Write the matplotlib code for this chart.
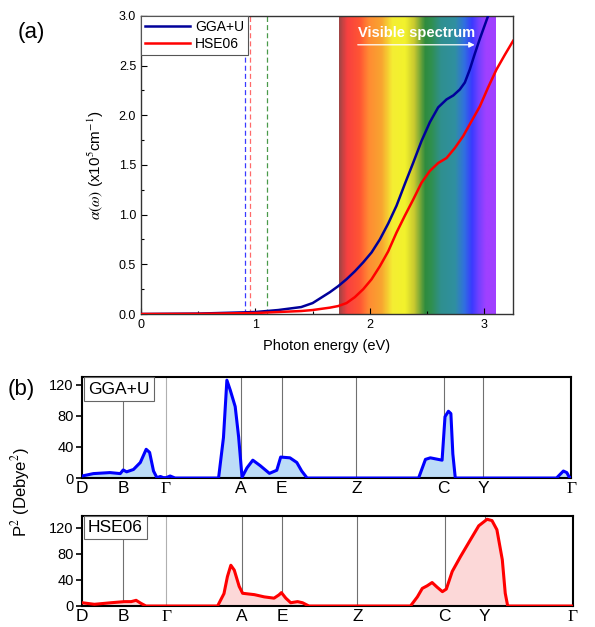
import numpy as np
import matplotlib
matplotlib.use("Agg")
import matplotlib.pyplot as plt
from matplotlib.colors import LinearSegmentedColormap

plt.rcParams["font.family"] = ["Liberation Sans", "DejaVu Sans"]
plt.rcParams["mathtext.fontset"] = "stix"

# ---- panel (a): absorption coefficient ----
energy_gga = [0, 0.5, 1.0, 1.2, 1.4, 1.5, 1.651, 1.723, 1.796, 1.869, 1.942, 2.015,
              2.087, 2.16, 2.233, 2.306, 2.378, 2.451, 2.524, 2.597, 2.670, 2.729,
              2.786, 2.830, 2.873, 2.917, 2.961, 3.033, 3.07]
alpha_gga = [0, 0.004, 0.02, 0.04, 0.07, 0.11, 0.22, 0.28, 0.35, 0.43, 0.52, 0.62,
             0.75, 0.91, 1.09, 1.31, 1.52, 1.74, 1.93, 2.08, 2.16, 2.20,
             2.26, 2.33, 2.46, 2.62, 2.77, 3.0, 3.15]
energy_hse = [0, 0.5, 1.0, 1.4, 1.5, 1.651, 1.723, 1.796, 1.869, 1.942, 2.015, 2.087,
              2.16, 2.233, 2.306, 2.378, 2.451, 2.524, 2.597, 2.670, 2.742, 2.815,
              2.888, 2.961, 3.033, 3.106, 3.18, 3.252]
alpha_hse = [0, 0.002, 0.01, 0.03, 0.04, 0.064, 0.08, 0.11, 0.17, 0.25, 0.35, 0.48,
             0.63, 0.82, 0.99, 1.15, 1.32, 1.44, 1.52, 1.57, 1.67, 1.79,
             1.94, 2.09, 2.28, 2.46, 2.61, 2.75]
gap_lines = [0.913, 0.95, 1.10]
gap_colors = ["#3a3aff", "#ff6a6a", "#4a9a4a"]
visible = (1.73, 3.10)

# ---- panel (b): transition dipole moment along k-path ----
kpoint_labels = ["D", "B", "Γ", "A", "E", "Z", "C", "Y", "Γ"]
kpoint_pos = [0, 0.084, 0.171, 0.325, 0.408, 0.561, 0.739, 0.820, 1.0]

k_gga = [0, 0.023, 0.057, 0.078, 0.084, 0.091, 0.105, 0.119, 0.131, 0.138, 0.146,
         0.153, 0.160, 0.166, 0.172, 0.180, 0.190, 0.279, 0.289, 0.296, 0.303,
         0.313, 0.320, 0.327, 0.337, 0.349, 0.364, 0.383, 0.398, 0.406, 0.425,
         0.439, 0.449, 0.460, 0.688, 0.702, 0.712, 0.736, 0.742, 0.749, 0.754,
         0.758, 0.763, 0.970, 0.984, 0.991, 0.997, 1.0]
p2_gga = [2.6, 5.7, 7, 5.7, 10.4, 8, 11, 20, 37, 33, 9,
          0.4, 2, 0.5, 0.5, 2.6, 0, 0, 52, 126, 113,
          92, 53, 1, 13, 23, 16, 6, 10, 27, 26,
          20, 9, 0, 0, 24, 26, 23, 79, 86, 83,
          31, 0, 0, 9, 7, 0, 0]

k_hse = [0, 0.025, 0.059, 0.086, 0.100, 0.110, 0.120, 0.130, 0.276, 0.289, 0.296,
         0.303, 0.310, 0.320, 0.327, 0.351, 0.371, 0.391, 0.401, 0.406, 0.415,
         0.425, 0.439, 0.449, 0.462, 0.669, 0.683, 0.693, 0.703, 0.713, 0.723,
         0.734, 0.742, 0.754, 0.771, 0.791, 0.808, 0.825, 0.835, 0.845, 0.856,
         0.862, 0.867, 1.0]
p2_hse = [5, 2.6, 5, 6.7, 6.7, 8.7, 4, 0, 0, 19, 45,
          62.5, 55, 30, 19.5, 17.4, 14, 12, 17, 20.5, 12,
          5, 6.7, 5, 0, 0, 14, 27, 31, 36, 29,
          22, 26, 53, 76, 101.5, 123, 133, 131, 117, 71,
          19.5, 0, 0]

fig = plt.figure(figsize=(5.95, 6.27), dpi=100)

# %% panel (a)
ax = fig.add_axes([0.237, 0.4992, 0.625, 0.4753])
spec_cmap = LinearSegmentedColormap.from_list("spec", [
    (0.00, "#a04545"), (0.05, "#f84040"), (0.13, "#ff5533"), (0.19, "#ff8c33"),
    (0.27, "#f8a530"), (0.34, "#f4ee33"), (0.42, "#f2f22c"), (0.48, "#c8c830"),
    (0.55, "#2e8b3e"), (0.59, "#309050"), (0.65, "#2f8f8f"), (0.74, "#3090a0"),
    (0.80, "#3070e0"), (0.85, "#3a3aff"), (0.89, "#7040ff"), (0.94, "#a040ff"),
    (1.00, "#a040ff")])
grad = np.linspace(0, 1, 400).reshape(1, -1)
ax.imshow(grad, cmap=spec_cmap, aspect="auto", extent=[visible[0], visible[1], 0, 3],
          zorder=1)
for xg, cg in zip(gap_lines, gap_colors):
    ax.axvline(xg, color=cg, ls=(0, (4, 2.5)), lw=0.9, zorder=2)
ax.plot(energy_gga, alpha_gga, color="#00009a", lw=1.8, label="GGA+U", zorder=3)
ax.plot(energy_hse, alpha_hse, color="#ff0000", lw=1.8, label="HSE06", zorder=3)
ax.set_xlim(0, 3.25)
ax.set_ylim(0, 3.0)
ax.set_xticks([0, 1, 2, 3])
ax.set_xticks(np.arange(0.5, 3.25, 1.0), minor=True)
ax.set_yticks(np.arange(0, 3.01, 0.5))
ax.set_yticks(np.arange(0.25, 3.0, 0.5), minor=True)
ax.yaxis.set_major_formatter(matplotlib.ticker.FormatStrFormatter("%.1f"))
ax.tick_params(which="both", direction="in", labelsize=9, width=0.8)
ax.tick_params(which="major", length=4)
ax.tick_params(which="minor", length=2.5)
for s in ax.spines.values():
    s.set_linewidth(1.0)
    s.set_color("#333333")
ax.set_xlabel("Photon energy (eV)", fontsize=10.5, labelpad=6)
ax.set_ylabel(r"$\alpha(\omega)$ (x10$^{5}$cm$^{-1}$)", fontsize=11, labelpad=9)
leg = ax.legend(loc="upper left", fontsize=10, borderaxespad=0, fancybox=False,
                handlelength=3.2, borderpad=0.3, labelspacing=0.2, handletextpad=0.4,
                framealpha=1)
leg.get_frame().set_edgecolor("#555555")
leg.get_frame().set_linewidth(0.8)
ax.text(2.41, 2.83, "Visible spectrum", color="white", fontsize=10.5, fontweight="bold",
        ha="center", va="center", zorder=4)
ax.annotate("", xy=(2.94, 2.71), xytext=(1.87, 2.71),
            arrowprops=dict(arrowstyle="-|>", color="white", lw=0.9, mutation_scale=8),
            zorder=4)
fig.text(0.052, 0.948, "(a)", fontsize=16, ha="center", va="center")

# %% panel (b)
def dipole_panel(rect, k, p2, line_c, fill_c, name, ymax):
    axb = fig.add_axes(rect)
    for kp, kl in zip(kpoint_pos[1:-1], kpoint_labels[1:-1]):
        axb.axvline(kp, color="#b0b0b0" if kl == "Γ" else "#707070", lw=0.8, zorder=1)
    axb.fill_between(k, p2, 0, color=fill_c, zorder=2, lw=0)
    axb.plot(k, p2, color=line_c, lw=2.2, zorder=3)
    axb.set_xlim(0, 1)
    axb.set_ylim(0, ymax)
    axb.set_yticks([0, 40, 80, 120])
    axb.set_xticks(kpoint_pos)
    axb.set_xticklabels(kpoint_labels)
    for t in axb.get_xticklabels():
        if t.get_text() == "Γ":
            t.set_family(["Liberation Serif", "DejaVu Serif"])
    axb.tick_params(axis="x", length=0, labelsize=12.5, pad=2)
    axb.tick_params(axis="y", length=4, width=1.2, labelsize=10.5, pad=2)
    for s in axb.spines.values():
        s.set_linewidth(1.5)
    axb.text(0.012, 0.955, name, transform=axb.transAxes, fontsize=12.5,
             ha="left", va="top", zorder=5,
             bbox=dict(boxstyle="square,pad=0.25", fc="white", ec="#666666", lw=0.8))
    return axb

dipole_panel([0.138, 0.2376, 0.822, 0.161], k_gga, p2_gga, "#0000ff", "#bcdcf8",
             "GGA+U", 130)
dipole_panel([0.138, 0.0335, 0.825, 0.1435], k_hse, p2_hse, "#ff0000", "#fcd8d8",
             "HSE06", 138)
fig.text(0.036, 0.378, "(b)", fontsize=16, ha="center", va="center")
fig.text(0.034, 0.215, "P$^2$ (Debye$^2$)", fontsize=12, rotation=90,
         ha="center", va="center")

fig.savefig("out.png", dpi=100)
